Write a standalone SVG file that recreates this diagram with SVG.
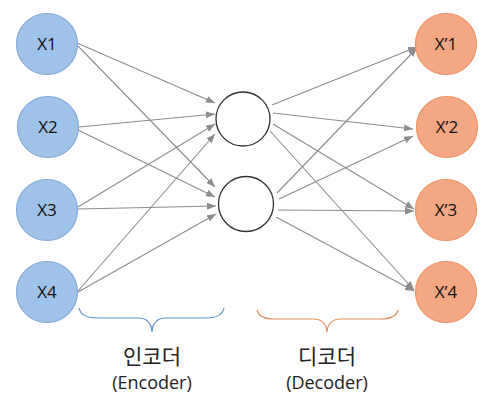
<svg xmlns="http://www.w3.org/2000/svg" width="490" height="402" viewBox="0 0 490 402">
<defs>
<style>
.in{fill:#9fc2e8;stroke:#82abdb;stroke-width:1.2}
.out{fill:#f4a784;stroke:#ec9466;stroke-width:1.2}
.hid{fill:#fff;stroke:#333;stroke-width:1.3}
.lbl{font-family:"Open Sans","Noto Sans",sans-serif;font-size:17px;fill:#111;text-anchor:middle}
.con line{stroke:#8c8c8c;stroke-width:1.1;marker-end:url(#ah)}
.ko{font-family:"Noto Sans CJK KR",sans-serif;font-size:21px;fill:#222;text-anchor:middle}
.en{font-family:"Open Sans","Noto Sans",sans-serif;font-size:18px;fill:#222;text-anchor:middle}
</style>
<marker id="ah" markerUnits="userSpaceOnUse" markerWidth="10" markerHeight="8" refX="9" refY="4" orient="auto">
<path d="M0,0.5 L9,4 L0,7.5 z" fill="#8c8c8c"/>
</marker>
</defs>
<rect width="490" height="402" fill="#fff"/>
<g id="connectors" class="con">
<line x1="77" y1="43" x2="215" y2="103"/>
<line x1="78" y1="46" x2="215" y2="187"/>
<line x1="79" y1="127" x2="215" y2="114"/>
<line x1="78" y1="130" x2="215" y2="197"/>
<line x1="78" y1="207" x2="215" y2="124"/>
<line x1="78" y1="209" x2="216" y2="206"/>
<line x1="78" y1="291" x2="215" y2="134"/>
<line x1="78" y1="292" x2="216" y2="214"/>
<line x1="272" y1="105" x2="417" y2="47"/>
<line x1="273" y1="113" x2="413" y2="129"/>
<line x1="273" y1="124" x2="414" y2="209"/>
<line x1="270" y1="131" x2="414" y2="290"/>
<line x1="277" y1="193" x2="417" y2="48"/>
<line x1="279" y1="199" x2="413" y2="136"/>
<line x1="278" y1="210" x2="414" y2="211"/>
<line x1="276" y1="217" x2="414" y2="291"/>
</g>
<g id="X1"><circle class="in" cx="47" cy="44" r="30.5"/><text class="lbl" x="47" y="50">X1</text></g>
<g id="X2"><circle class="in" cx="48" cy="127" r="30.5"/><text class="lbl" x="48" y="133">X2</text></g>
<g id="X3"><circle class="in" cx="47" cy="210" r="30.5"/><text class="lbl" x="47" y="216">X3</text></g>
<g id="X4"><circle class="in" cx="47" cy="292" r="30.5"/><text class="lbl" x="47" y="298">X4</text></g>
<g id="H1"><circle class="hid" cx="243" cy="119" r="27"/></g>
<g id="H2"><circle class="hid" cx="246" cy="204" r="27.5"/></g>
<g id="Y1"><circle class="out" cx="446" cy="44" r="30.5"/><text class="lbl" x="446" y="50">X’1</text></g>
<g id="Y2"><circle class="out" cx="447" cy="127" r="30.5"/><text class="lbl" x="447" y="133">X’2</text></g>
<g id="Y3"><circle class="out" cx="446" cy="210" r="30.5"/><text class="lbl" x="446" y="216">X’3</text></g>
<g id="Y4"><circle class="out" cx="446" cy="292" r="30.5"/><text class="lbl" x="446" y="298">X’4</text></g>
<g id="encoder-brace">
<path d="M79,308 Q81,318 98,318 L138,318 Q151,318 152,332 Q153,318 166,318 L206,318 Q222,318 224,308" fill="none" stroke="#5b8fcf" stroke-width="1.2"/>
<text class="ko" x="152" y="364">인코더</text>
<text class="en" x="152" y="389">(Encoder)</text>
</g>
<g id="decoder-brace">
<path d="M257,310 Q259,319 275,319 L313,319 Q326,319 327,332 Q328,319 341,319 L380,319 Q396,319 398,310" fill="none" stroke="#e0925c" stroke-width="1.2"/>
<text class="ko" x="327" y="364">디코더</text>
<text class="en" x="327" y="389">(Decoder)</text>
</g>
</svg>
